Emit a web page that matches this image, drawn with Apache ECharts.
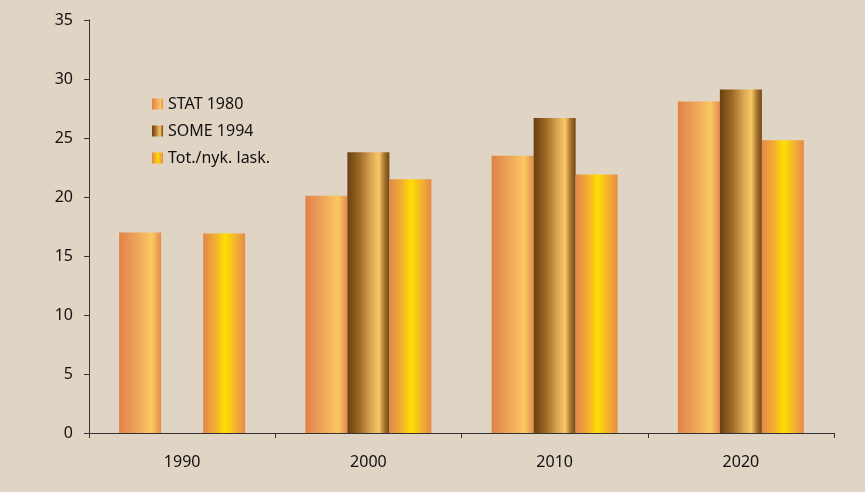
<!DOCTYPE html>
<html><head><meta charset="utf-8">
<script src="https://cdn.jsdelivr.net/npm/echarts@6/dist/echarts.min.js"></script>
<style>html,body{margin:0;padding:0;background:#E0D4C4;}#c{width:865px;height:492px;}</style>
</head><body><div id="c"></div>
<script>
const categories = ['1990','2000','2010','2020'];
const stat1980 = [17.0, 20.1, 23.5, 28.1];
const some1994 = [null, 23.8, 26.7, 29.1];
const totNyk = [16.9, 21.5, 21.9, 24.8];
const yTicks = {min:0, max:35, interval:5};

function grad(stops){return {type:'linear',x:0,y:0,x2:1,y2:0,colorStops:stops.map(s=>({offset:s[0],color:s[1]}))};}
const gStat = grad([[0,'#E0824A'],[0.45,'#EFA85A'],[0.78,'#FBC862'],[0.9,'#F0A558'],[1,'#E58C4C']]);
const gSome = grad([[0,'#68400E'],[0.3,'#A06A28'],[0.55,'#D6A452'],[0.75,'#F9C764'],[0.88,'#A87530'],[1,'#72480F']]);
const gTot = grad([[0,'#E3874C'],[0.3,'#F3B030'],[0.52,'#FFDE00'],[0.75,'#F4B62A'],[1,'#E68A4A']]);

const chart = echarts.init(document.getElementById('c'));
const font = '"Noto Sans", "Open Sans", sans-serif';
chart.setOption({
  backgroundColor:'#E0D4C4',
  animation:false,
  textStyle:{fontFamily:font},
  grid:{left:89,right:31,top:20,bottom:59},
  legend:{orient:'vertical',left:147,top:91,icon:'rect',itemWidth:11,itemHeight:11,itemGap:11,
    textStyle:{fontSize:16,color:'#111',fontFamily:font,padding:[0,0,0,0]},
    data:['STAT 1980','SOME 1994','Tot./nyk. lask.']},
  xAxis:{type:'category',data:categories,
    axisLine:{lineStyle:{color:'#333',width:1}},
    axisTick:{show:true,length:5,lineStyle:{color:'#333'}},
    axisLabel:{fontSize:16,color:'#111',margin:21}},
  yAxis:{type:'value',min:yTicks.min,max:yTicks.max,interval:yTicks.interval,
    splitLine:{show:false},
    axisLine:{show:true,lineStyle:{color:'#333'}},
    axisTick:{show:true,length:5,lineStyle:{color:'#333'}},
    axisLabel:{fontSize:16,color:'#111',margin:16}},
  series:[
    {name:'STAT 1980',type:'bar',data:stat1980,barWidth:42,barGap:'0%',itemStyle:{color:gStat}},
    {name:'SOME 1994',type:'bar',data:some1994,barWidth:42,barGap:'0%',itemStyle:{color:gSome}},
    {name:'Tot./nyk. lask.',type:'bar',data:totNyk,barWidth:42,barGap:'0%',itemStyle:{color:gTot}}
  ]
});
</script></body></html>
